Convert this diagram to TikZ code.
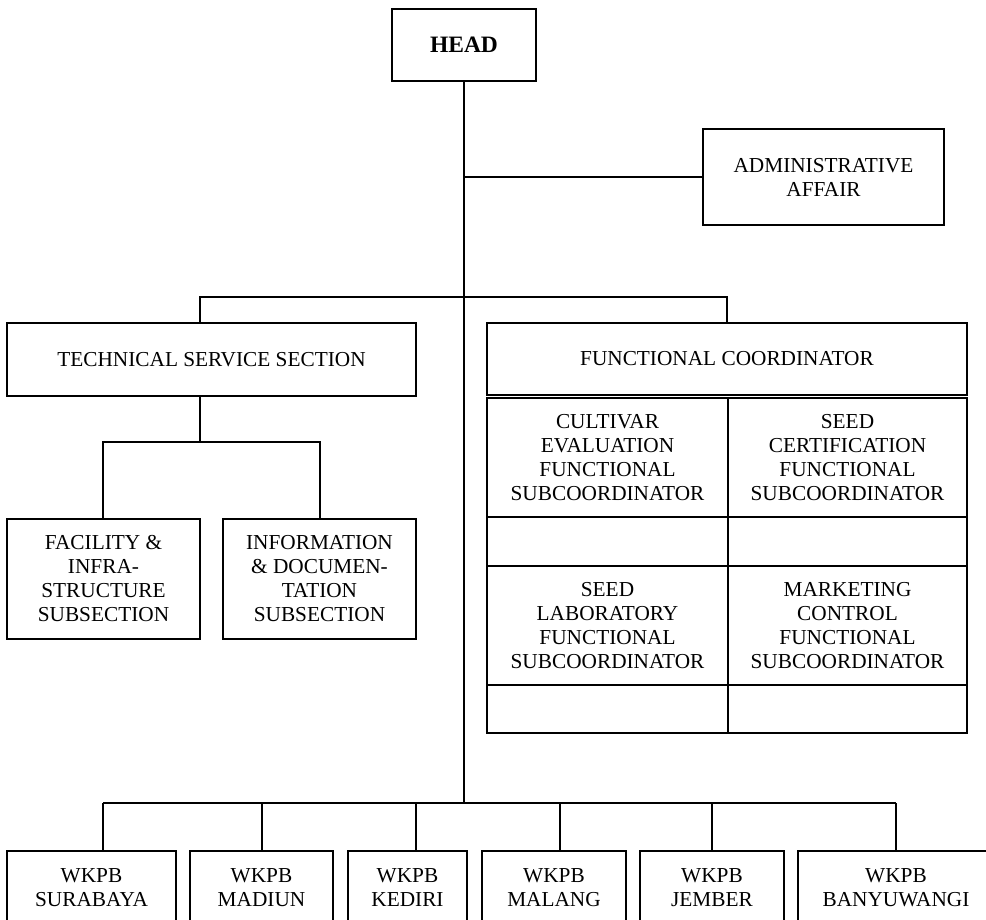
\documentclass[tikz,border=0pt]{standalone}
\usepackage{fontspec}
\setmainfont{Liberation Serif}
\begin{document}
\begin{tikzpicture}[x=1pt,y=-1pt,
  box/.style={draw, line width=1.2pt, inner sep=0pt, align=center,
    font=\fontsize{21.3}{24}\selectfont},
  conn/.style={line width=1.2pt}]
\useasboundingbox (0,0) rectangle (986,920);
\clip (0,0) rectangle (986,920);
% top
\node[box, minimum width=144, minimum height=72, font=\fontsize{23.5}{24}\selectfont\bfseries] (head) at (464,45) {HEAD};
\node[box, minimum width=241, minimum height=96] (admin) at (823.5,177) {ADMINISTRATIVE\\AFFAIR};
% sections
\node[box, minimum width=409, minimum height=73] (tss) at (211.5,359.5) {TECHNICAL SERVICE SECTION};
\node[box, minimum width=480, minimum height=72] (fc) at (727,359) {FUNCTIONAL COORDINATOR};
\node[box, minimum width=193, minimum height=120] (fac) at (103.5,579) {FACILITY \&\\INFRA-\\STRUCTURE\\SUBSECTION};
\node[box, minimum width=193, minimum height=120] (info) at (319.5,579) {INFORMATION\\\& DOCUMEN-\\TATION\\SUBSECTION};
% grid
\node[box, minimum width=241, minimum height=119] (cev) at (607.5,457.5) {CULTIVAR\\EVALUATION\\FUNCTIONAL\\SUBCOORDINATOR};
\node[box, minimum width=239, minimum height=119] (cert) at (847.5,457.5) {SEED\\CERTIFICATION\\FUNCTIONAL\\SUBCOORDINATOR};
\node[box, minimum width=241, minimum height=49] (ba1) at (607.5,541.5) {};
\node[box, minimum width=239, minimum height=49] (bb1) at (847.5,541.5) {};
\node[box, minimum width=241, minimum height=119] (lab) at (607.5,625.5) {SEED\\LABORATORY\\FUNCTIONAL\\SUBCOORDINATOR};
\node[box, minimum width=239, minimum height=119] (mkt) at (847.5,625.5) {MARKETING\\CONTROL\\FUNCTIONAL\\SUBCOORDINATOR};
\node[box, minimum width=241, minimum height=48] (ba2) at (607.5,709) {};
\node[box, minimum width=239, minimum height=48] (bb2) at (847.5,709) {};
% WKPB
\node[box, minimum width=169, minimum height=74] (sur) at (91.5,888) {WKPB\\SURABAYA};
\node[box, minimum width=143, minimum height=74] (mad) at (261.5,888) {WKPB\\MADIUN};
\node[box, minimum width=119, minimum height=74] (ked) at (407.5,888) {WKPB\\KEDIRI};
\node[box, minimum width=144, minimum height=74] (mal) at (554,888) {WKPB\\MALANG};
\node[box, minimum width=144, minimum height=74] (jem) at (712,888) {WKPB\\JEMBER};
\node[box, minimum width=196, minimum height=74] (ban) at (896,888) {WKPB\\BANYUWANGI};
% coordinates
\coordinate (ta) at (464,177);
\coordinate (tc) at (464,803);
\coordinate (busA) at (200,297);
\coordinate (busB) at (727,297);
\coordinate (sb) at (200,442);
\coordinate (sbl) at (103,442);
\coordinate (sbr) at (320,442);
\coordinate (bsur) at (103,803);
\coordinate (bmad) at (262,803);
\coordinate (bked) at (416,803);
\coordinate (bmal) at (560,803);
\coordinate (bjem) at (712,803);
\coordinate (bban) at (896,803);
% connectors
\draw[conn] (head.south) -- (tc);
\draw[conn] (ta) -- (admin.west);
\draw[conn] (busA |- tss.north) -- (busA) -- (busB) -- (fc.north);
\draw[conn] (busA |- tss.south) -- (sb);
\draw[conn] (sbl |- fac.north) -- (sbl) -- (sbr) -- (sbr |- info.north);
\draw[conn] (bsur) -- (bban);
\foreach \c/\n in {bsur/sur,bmad/mad,bked/ked,bmal/mal,bjem/jem,bban/ban}
  \draw[conn] (\c) -- (\c |- \n.north);
\end{tikzpicture}
\end{document}
